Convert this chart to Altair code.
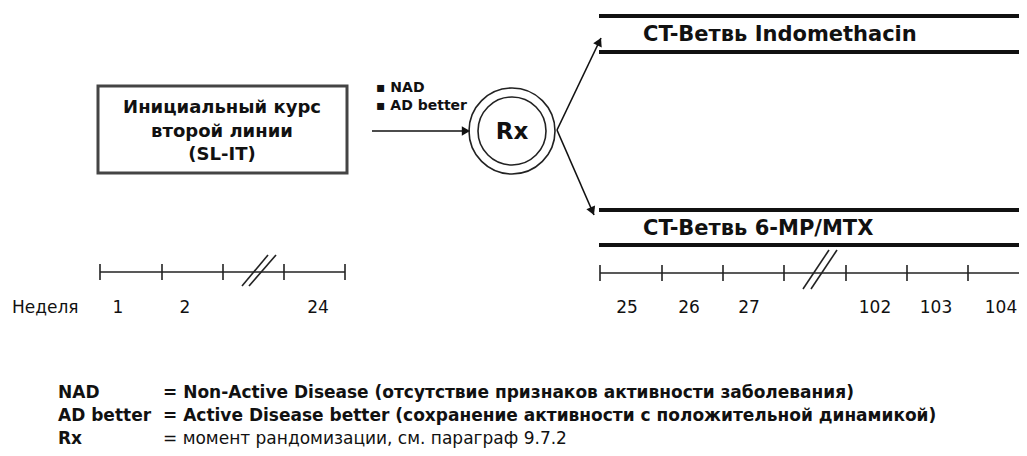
import math
import altair as alt
import pandas as pd

FONT = "DejaVu Sans, Liberation Sans, Arial, sans-serif"
INK = "#111111"

# ---- diagram content (pixel layout of the reference) ----
box_x = [98]; box_x2 = [347]; box_y = [86]; box_y2 = [173]
box_lines = ["Инициальный курс", "второй линии", "(SL-IT)"]
box_line_x = [222, 222, 222]
box_line_y = [108, 132, 155]

bullet_text = ["▪ NAD", "▪ AD better"]
bullet_x = [376, 376]
bullet_y = [88, 106]

circle_x = [512, 512]
circle_y = [131, 131]
circle_d = [86, 68]

rx_text = ["Rx"]

# arrows: start -> tip
arrow_x1 = [372, 557, 557]
arrow_y1 = [131, 130, 130]
arrow_x2 = [470, 601, 594]
arrow_y2 = [131, 38, 215]

branch_names = ["CT-Ветвь Indomethacin", "CT-Ветвь 6-MP/MTX"]
branch_label_x = [643, 643]
branch_label_y = [35, 229]
branch_line_y = [16, 52, 210, 245]
branch_x_start = 599
branch_x_end = 1030

# timelines
tl_left = (100, 345, 272)
tl_left_ticks = [100, 162, 223, 284, 345]
tl_right = (600, 1030, 273)
tl_right_ticks = [600, 662, 723, 784, 846, 907, 968]
break_x1 = [242, 249, 803, 811]
break_y1 = [286, 286, 289, 289]
break_x2 = [268, 276, 829, 837]
break_y2 = [255, 255, 250, 250]

week_label = "Неделя"
week_nums = ["1", "2", "24", "25", "26", "27", "102", "103", "104"]
week_x = [118, 185, 318, 627, 689, 749, 875, 936, 1001]
week_y = 308

legend_keys = ["NAD", "AD better", "Rx"]
legend_desc = [
    "= Non-Active Disease (отсутствие признаков активности заболевания)",
    "= Active Disease better (сохранение активности с положительной динамикой)",
    "= момент рандомизации, см. параграф 9.7.2",
]
legend_y = [393, 416, 439]
legend_key_x = 58
legend_desc_x = 163

# ---- scales mapping page pixels ----
W, H = 1011, 440
X = alt.Scale(domain=[8, 8 + W])
Y = alt.Scale(domain=[8, 8 + H], reverse=True)


def xq(f):
    return alt.X(f, type="quantitative", scale=X, axis=None)


def yq(f):
    return alt.Y(f, type="quantitative", scale=Y, axis=None)


def text_layer(df, size, weight, align="left"):
    return alt.Chart(df).mark_text(
        font=FONT, fontSize=size, fontWeight=weight, align=align,
        baseline="middle", color=INK
    ).encode(x=xq("x"), y=yq("y"), text="t:N")


# box
box_df = pd.DataFrame({"x": box_x, "x2": box_x2, "y": box_y, "y2": box_y2})
box = alt.Chart(box_df).mark_rect(fill="white", stroke="#444444", strokeWidth=3).encode(
    x=xq("x"), x2="x2", y=yq("y"), y2="y2")
box_txt = text_layer(pd.DataFrame({"x": box_line_x, "y": box_line_y, "t": box_lines}), 18, "bold", "center")

bullets = text_layer(pd.DataFrame({"x": bullet_x, "y": bullet_y, "t": bullet_text}), 14, "bold")

circles = alt.Chart(pd.DataFrame({"x": circle_x, "y": circle_y, "s": [d * d for d in circle_d]})).mark_point(
    shape="circle", filled=False, stroke="#222222", strokeWidth=1.6, opacity=1
).encode(x=xq("x"), y=yq("y"), size=alt.Size("s:Q", scale=None, legend=None))
rx = text_layer(pd.DataFrame({"x": [circle_x[0]], "y": [circle_y[0] + 1], "t": rx_text}), 23, "bold", "center")

# arrows
arr_df = pd.DataFrame({"x": arrow_x1, "y": arrow_y1, "x2": arrow_x2, "y2": arrow_y2})
arr_lines = alt.Chart(arr_df).mark_rule(color=INK, strokeWidth=1.6).encode(
    x=xq("x"), y=yq("y"), x2="x2", y2="y2")
heads = []
HEAD_SIZE = 90
h = math.sqrt(3) / 2 * math.sqrt(HEAD_SIZE) / 2
for x1, y1, x2, y2 in zip(arrow_x1, arrow_y1, arrow_x2, arrow_y2):
    dx, dy = x2 - x1, y2 - y1
    L = math.hypot(dx, dy)
    ang = math.degrees(math.atan2(dx, -dy)) % 360
    heads.append({"x": x2 - dx / L * h, "y": y2 - dy / L * h, "a": ang})
arr_heads = alt.Chart(pd.DataFrame(heads)).mark_point(
    shape="triangle-up", filled=True, size=HEAD_SIZE, color=INK, opacity=1
).encode(x=xq("x"), y=yq("y"), angle=alt.Angle("a:Q", scale=None))

# branches
br_df = pd.DataFrame({"x": [branch_x_start] * 4, "x2": [branch_x_end] * 4, "y": branch_line_y})
br_lines = alt.Chart(br_df).mark_rule(color=INK, strokeWidth=4).encode(x=xq("x"), x2="x2", y=yq("y"))
br_txt = text_layer(pd.DataFrame({"x": branch_label_x, "y": branch_label_y, "t": branch_names}), 21, "bold")

# timelines
tl_df = pd.DataFrame({"x": [tl_left[0], tl_right[0]], "x2": [tl_left[1], tl_right[1]],
                      "y": [tl_left[2], tl_right[2]]})
tl_lines = alt.Chart(tl_df).mark_rule(color="#222222", strokeWidth=1.6).encode(x=xq("x"), x2="x2", y=yq("y"))
tick_rows = [{"x": t, "y": tl_left[2] - 8, "y2": tl_left[2] + 8} for t in tl_left_ticks] + \
            [{"x": t, "y": tl_right[2] - 8, "y2": tl_right[2] + 8} for t in tl_right_ticks]
ticks = alt.Chart(pd.DataFrame(tick_rows)).mark_rule(color="#222222", strokeWidth=1.6).encode(
    x=xq("x"), y=yq("y"), y2="y2")
brk = alt.Chart(pd.DataFrame({"x": break_x1, "y": break_y1, "x2": break_x2, "y2": break_y2})).mark_rule(
    color="#222222", strokeWidth=1.6).encode(x=xq("x"), y=yq("y"), x2="x2", y2="y2")

wk_lbl = text_layer(pd.DataFrame({"x": [12], "y": [week_y], "t": [week_label]}), 17, "normal")
wk_nums = text_layer(pd.DataFrame({"x": week_x, "y": [week_y] * len(week_x), "t": week_nums}), 17, "normal", "center")

# legend
leg_keys = text_layer(pd.DataFrame({"x": [legend_key_x] * 3, "y": legend_y, "t": legend_keys}), 17, "bold")
leg_desc_b = text_layer(pd.DataFrame({"x": [legend_desc_x] * 2, "y": legend_y[:2], "t": legend_desc[:2]}), 17, "bold")
leg_desc_n = text_layer(pd.DataFrame({"x": [legend_desc_x], "y": [legend_y[2]], "t": [legend_desc[2]]}), 17, "normal")

chart = alt.layer(
    box, box_txt, arr_lines, arr_heads, bullets, circles, rx, br_lines, br_txt,
    tl_lines, ticks, brk, wk_lbl, wk_nums, leg_keys, leg_desc_b, leg_desc_n
).properties(width=W, height=H, padding=0, autosize="none").configure_view(stroke=None)

chart.save("out.html", embed_options={"renderer": "svg", "actions": False})
